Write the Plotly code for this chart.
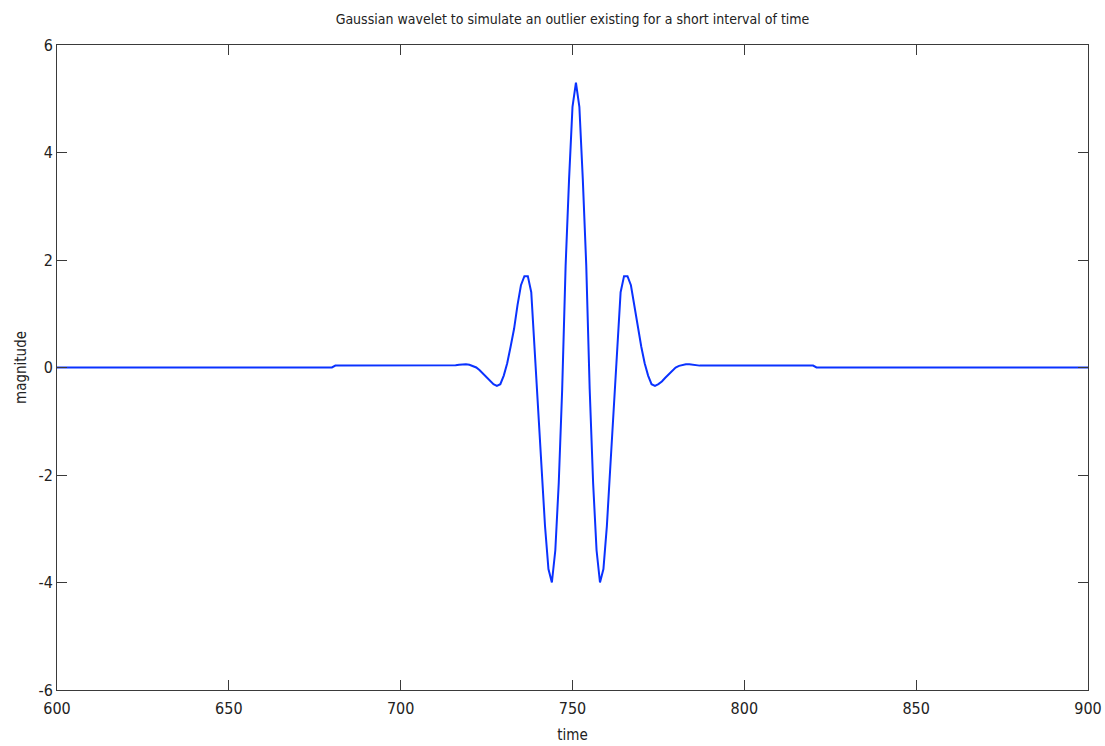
import plotly.graph_objects as go

# ---- data ----
# flat baseline segments (time, magnitude)
left_time = [600, 680]
left_mag = [0.0, 0.0]
right_time = [821, 900]
right_mag = [0.0, 0.0]

# raised plateau and wavelet (integer time samples 681..820 described sparsely)
plateau_left_time = [681, 714]
plateau_left_mag = [0.035, 0.035]

wavelet_time = list(range(715, 788))
wavelet_mag = [
    0.035, 0.04, 0.05, 0.06, 0.06, 0.05, 0.03, 0.00, -0.05, -0.12,   # 715-724
    -0.19, -0.26, -0.31, -0.34, -0.31, -0.15, 0.08, 0.39, 0.72, 1.16,  # 725-734
    1.53, 1.70, 1.70, 1.40, 0.31, -0.80, -1.85, -2.95, -3.75, -4.00,   # 735-744
    -3.40, -2.15, -0.40, 1.90, 3.50, 4.85, 5.30, 4.85, 3.50, 1.90,     # 745-754
    -0.40, -2.15, -3.40, -4.00, -3.75, -2.95, -1.85, -0.80, 0.31, 1.40, # 755-764
    1.70, 1.70, 1.53, 1.16, 0.72, 0.39, 0.08, -0.15, -0.31, -0.34,     # 765-774
    -0.31, -0.26, -0.19, -0.12, -0.05, 0.00, 0.03, 0.05, 0.06, 0.06,   # 775-784
    0.05, 0.04, 0.035,                                                 # 785-787
]

plateau_right_time = [788, 820]
plateau_right_mag = [0.035, 0.035]

x_ticks = [600, 650, 700, 750, 800, 850, 900]
y_ticks = [-6, -4, -2, 0, 2, 4, 6]

time = left_time + plateau_left_time + wavelet_time + plateau_right_time + right_time
mag = left_mag + plateau_left_mag + wavelet_mag + plateau_right_mag + right_mag

FONT = "DejaVu Sans Condensed, Liberation Sans Narrow, Arial Narrow, sans-serif"
AXC = "#3a3a3a"
TXT = "#222222"

fig = go.Figure()
fig.add_trace(go.Scatter(
    x=time, y=mag, mode="lines",
    line=dict(color="rgb(10,50,255)", width=2),
    showlegend=False, hoverinfo="x+y",
))

fig.update_layout(
    width=1105, height=746,
    margin=dict(l=57, r=17, t=45, b=56, pad=0),
    paper_bgcolor="white", plot_bgcolor="white",
    font=dict(family=FONT, color=TXT, size=16),
    title=dict(
        text="Gaussian wavelet to simulate an outlier existing for a short interval of time",
        x=0.5, xref="paper", xanchor="center",
        y=1 - 19 / 746, yref="container", yanchor="middle",
        font=dict(family=FONT, size=14, color=TXT),
    ),
    xaxis=dict(
        range=[600, 900], tickvals=x_ticks, ticktext=[str(v) for v in x_ticks],
        showgrid=False, zeroline=False, automargin=False,
        showline=True, linecolor=AXC, linewidth=1, mirror="ticks",
        ticks="inside", ticklen=10, tickcolor=AXC, tickwidth=1,
        ticklabelstandoff=4,
        tickfont=dict(family=FONT, size=16, color=TXT),
        title=dict(text="time", font=dict(family=FONT, size=15, color=TXT), standoff=12),
        fixedrange=True,
    ),
    yaxis=dict(
        range=[-6, 6], tickvals=y_ticks, ticktext=[str(v) for v in y_ticks],
        showgrid=False, zeroline=False, automargin=False,
        showline=True, linecolor=AXC, linewidth=1, mirror="ticks",
        ticks="inside", ticklen=10, tickcolor=AXC, tickwidth=1,
        tickfont=dict(family=FONT, size=16, color=TXT),
        title=dict(text="magnitude", font=dict(family=FONT, size=15, color=TXT), standoff=8),
        fixedrange=True,
    ),
)

fig.write_html("out.html")
